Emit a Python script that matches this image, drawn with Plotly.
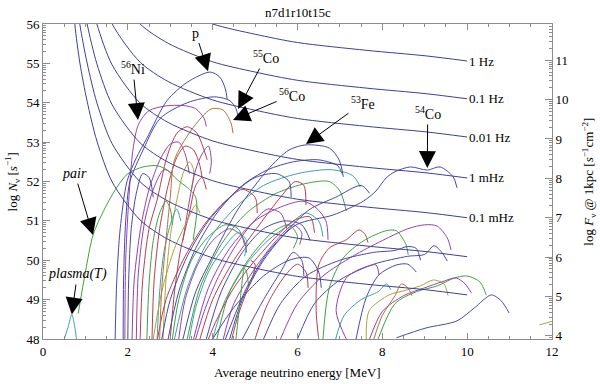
import numpy as np
import plotly.graph_objects as go

# ---- constant detection-rate lines (E in MeV, log N) ----
rate_labels = ["1 Hz", "0.1 Hz", "0.01 Hz", "1 mHz", "0.1 mHz", "", ""]

rate_1Hz_E = [2.95, 4.0, 5.0, 6.0, 7.64, 9.03, 10.0]
rate_1Hz_N = [56.47, 56.0, 55.74, 55.53, 55.33, 55.19, 55.06]
rate_01Hz_E = [1.63, 2.29, 2.95, 4.0, 5.0, 6.0, 7.64, 9.03, 10.0]
rate_01Hz_N = [56.97, 56.0, 55.51, 55.04, 54.78, 54.57, 54.37, 54.23, 54.10]
rate_001Hz_E = [1.27, 1.63, 2.29, 2.95, 4.0, 5.0, 6.0, 7.64, 9.03, 10.0]
rate_001Hz_N = [57.04, 56.0, 55.03, 54.54, 54.07, 53.81, 53.60, 53.40, 53.26, 53.13]
rate_1mHz_E = [1.04, 1.27, 1.63, 2.29, 2.95, 4.0, 5.0, 6.0, 7.64, 9.03, 10.0]
rate_1mHz_N = [57.01, 56.0, 54.96, 53.99, 53.50, 53.03, 52.77, 52.56, 52.36, 52.22, 52.09]
rate_01mHz_E = [0.87, 1.04, 1.27, 1.63, 2.29, 2.95, 4.0, 5.0, 6.0, 7.64, 9.03, 10.0]
rate_01mHz_N = [56.97, 56.0, 54.99, 53.95, 52.98, 52.49, 52.02, 51.76, 51.55, 51.35, 51.21, 51.08]
rate_a_E = [0.75, 0.87, 1.04, 1.27, 1.63, 2.29, 2.95, 4.0, 5.0, 6.0, 7.64, 9.03, 10.0]
rate_a_N = [56.97, 55.98, 55.01, 54.0, 52.96, 51.99, 51.50, 51.03, 50.77, 50.56, 50.36, 50.22, 50.09]
rate_b_E = [0.68, 0.75, 0.87, 1.04, 1.27, 1.63, 2.29, 2.95, 4.0, 5.0, 6.0, 7.64, 9.03, 10.0]
rate_b_N = [57.2, 56.0, 55.01, 54.04, 53.03, 51.99, 51.02, 50.53, 50.06, 49.80, 49.59, 49.39, 49.25, 49.12]

# ---- labelled tracks ----
p_E = [1.70, 1.74, 1.82, 1.98, 2.2, 2.45, 2.92, 3.4, 3.94, 4.17, 4.3, 4.34]
p_N = [48.0, 49.5, 50.8, 52.0, 52.6, 53.1, 54.05, 54.52, 54.78, 54.65, 54.35, 54.1]
co55_E = [1.89, 1.9, 1.95, 2.05, 2.36, 2.76, 3.4, 4.05, 4.41, 4.55, 4.6]
co55_N = [48.0, 49.5, 51.0, 52.0, 52.8, 53.6, 54.0, 54.15, 54.05, 53.85, 53.64]
ni56_E = [1.93, 1.95, 2.02, 2.12, 2.25, 2.5, 2.9, 3.3, 3.6, 3.8, 3.85]
ni56_N = [48.0, 50.0, 51.5, 52.8, 53.45, 53.8, 53.92, 53.93, 53.85, 53.6, 53.4]
co56_E = [2.75, 2.8, 2.9, 3.0, 3.1, 3.5, 3.96, 4.24, 4.43, 4.48]
co56_N = [48.0, 49.3, 50.5, 51.6, 52.55, 53.31, 53.84, 53.82, 53.49, 53.23]
fe53_E = [3.3, 3.6, 4.0, 4.6, 5.3, 5.8, 6.2, 6.75, 6.98, 7.08]
fe53_N = [48.0, 49.2, 50.1, 51.3, 52.3, 52.8, 52.93, 52.85, 52.55, 52.12]
co54_E = [4.3, 4.8, 5.3, 5.97, 6.84, 7.55, 7.85, 8.09, 8.3, 8.66, 9.06, 9.36, 9.67, 9.76]
co54_N = [48.0, 49.3, 50.2, 50.9, 51.15, 51.5, 51.76, 52.09, 52.25, 52.37, 52.29, 52.37, 52.12, 51.84]
pair_E = [0.83, 1.0, 1.18, 1.45, 1.74, 2.0, 2.36, 2.69, 2.92, 3.16, 3.4, 3.5, 3.6, 3.63, 3.54]
pair_N = [48.65, 49.7, 50.64, 51.3, 51.85, 52.2, 52.37, 52.4, 52.3, 52.05, 51.85, 51.75, 51.6, 51.28, 50.52]
plasma_E = [0.47, 0.59, 0.68, 0.75, 0.8]
plasma_N = [47.9, 48.3, 48.62, 48.3, 47.9]

# ---- unlabelled tracks: steep group, middle bundle, low-right group ----
steep_E = [
    [2.29, 2.35, 2.5, 2.69, 2.92, 3.16, 3.4, 3.63, 3.77, 3.87],
    [2.1, 2.15, 2.3, 2.5, 2.78, 3.0, 3.2, 3.35, 3.45],
    [2.57, 2.62, 2.75, 2.95, 3.15, 3.35, 3.55, 3.7, 3.75],
    [2.83, 2.9, 3.0, 3.15, 3.3, 3.45, 3.55, 3.5],
    [3.3, 3.45, 3.6, 3.75, 3.9, 3.97, 3.93],
    [2.0, 2.02, 2.08, 2.2, 2.35, 2.5, 2.6],
    [2.45, 2.5, 2.6, 2.75, 2.9, 3.0, 3.05],
    [2.69, 2.75, 2.85, 3.0, 3.15, 3.25],
    [3.0, 3.1, 3.25, 3.45, 3.6, 3.75, 3.85],
    [2.2, 2.25, 2.4, 2.6, 2.85, 3.05],
]
steep_N = [
    [48.0, 49.5, 50.8, 51.53, 52.62, 53.23, 53.39, 53.23, 52.88, 52.55],
    [48.0, 49.5, 50.8, 51.8, 52.6, 52.95, 53.0, 52.7, 52.2],
    [48.0, 49.5, 50.8, 51.9, 52.6, 52.9, 52.8, 52.4, 52.1],
    [48.0, 49.5, 50.6, 51.5, 52.2, 52.5, 52.3, 51.8],
    [50.5, 51.5, 52.3, 52.7, 52.9, 52.5, 52.2],
    [48.0, 49.5, 50.8, 51.7, 52.2, 52.1, 51.6],
    [48.0, 49.4, 50.5, 51.2, 51.5, 51.3, 50.9],
    [48.0, 49.2, 50.2, 50.9, 51.3, 51.0],
    [48.0, 49.2, 50.3, 51.2, 51.9, 52.1, 51.8],
    [48.0, 49.7, 51.0, 51.8, 52.3, 52.2],
]
steep_c = ["red", "purple", "red", "olive", "purple", "blue", "green", "teal", "red", "purple"]

mid_E = [
    [2.95, 3.2, 3.6, 4.1, 4.7, 5.3, 5.9, 6.5, 6.95, 7.05],
    [3.1, 3.4, 3.9, 4.5, 5.2, 6.0, 6.8, 7.3, 7.48],
    [3.4, 3.7, 4.2, 4.8, 5.5, 6.2, 6.75, 7.0, 7.15],
    [3.55, 3.9, 4.4, 5.0, 5.6, 6.13, 6.44, 6.67, 6.72],
    [3.7, 4.0, 4.5, 5.1, 5.6, 5.95, 6.15, 6.2],
    [3.85, 4.2, 4.7, 5.2, 5.7, 6.1, 6.3],
    [4.0, 4.3, 4.8, 5.3, 5.8, 6.2, 6.5, 6.6],
    [4.1, 4.4, 4.9, 5.4, 5.8, 6.0, 5.9],
    [4.25, 4.5, 5.0, 5.5, 5.9, 6.1, 6.05],
    [2.7, 2.9, 3.3, 3.8, 4.3, 4.7, 5.0, 5.05],
    [2.8, 3.0, 3.4, 3.9, 4.5, 5.0, 5.5, 5.8, 5.85],
    [3.05, 3.2, 3.5, 3.9, 4.3, 4.6, 4.75],
    [3.2, 3.35, 3.65, 4.0, 4.4, 4.7, 4.8],
    [3.45, 3.6, 3.9, 4.25, 4.6, 4.8, 4.75],
    [4.4, 4.7, 5.2, 5.8, 6.3, 6.9, 7.5, 7.7],
    [4.45, 4.6, 4.8, 4.95, 5.0, 4.9],
    [4.55, 4.65, 4.75, 4.8, 4.85],
    [2.6, 2.8, 3.1, 3.4, 3.6, 3.7],
    [3.6, 3.8, 4.1, 4.5, 4.9, 5.3, 5.6, 5.75],
    [3.9, 4.1, 4.5, 5.0, 5.5, 5.9, 6.3, 6.4],
]
mid_N = [
    [48.0, 49.2, 50.3, 51.2, 51.9, 52.3, 52.5, 52.55, 52.4, 52.2],
    [48.0, 49.3, 50.5, 51.3, 51.9, 52.2, 52.3, 52.15, 51.86],
    [48.0, 49.3, 50.4, 51.2, 51.7, 51.95, 52.0, 51.76, 51.25],
    [48.0, 49.3, 50.3, 51.0, 51.35, 51.5, 51.33, 51.0, 50.52],
    [48.0, 49.0, 50.0, 50.9, 51.6, 52.0, 51.9, 51.4],
    [48.0, 49.2, 50.2, 50.8, 51.0, 50.9, 50.5],
    [48.0, 49.0, 49.9, 50.5, 50.9, 51.2, 51.0, 50.6],
    [48.0, 49.2, 50.1, 50.7, 50.9, 50.6, 50.3],
    [48.0, 48.9, 49.8, 50.5, 50.9, 50.7, 50.4],
    [48.0, 49.0, 50.0, 50.9, 51.5, 51.8, 51.6, 51.2],
    [48.0, 49.0, 50.1, 51.0, 51.7, 52.1, 52.2, 52.0, 51.6],
    [48.0, 49.0, 50.0, 50.6, 50.9, 50.8, 50.4],
    [48.0, 49.0, 49.9, 50.5, 50.8, 50.6, 50.2],
    [48.0, 48.8, 49.7, 50.3, 50.7, 50.5, 50.1],
    [48.0, 49.0, 50.0, 50.8, 51.3, 51.6, 51.9, 51.7],
    [48.0, 48.6, 49.2, 49.6, 49.9, 50.0],
    [48.0, 49.0, 49.8, 49.7, 49.3],
    [48.0, 49.2, 50.3, 51.0, 51.4, 51.2],
    [48.0, 48.7, 49.5, 50.3, 50.9, 51.3, 51.2, 50.8],
    [48.0, 48.5, 49.3, 50.0, 50.6, 51.0, 51.1, 50.7],
]
mid_c = ["blue", "teal", "green", "purple", "red", "blue", "teal", "green", "purple", "red",
         "blue", "green", "purple", "teal", "blue", "red", "green", "olive", "purple", "red"]

low_E = [
    [6.5, 6.44, 6.5, 6.75, 7.15, 7.45, 7.6, 7.66],
    [6.6, 6.75, 7.08, 7.55, 8.09, 8.33, 8.56, 8.61],
    [5.6, 6.0, 6.6, 7.3, 8.0, 8.6, 9.0, 9.29, 9.53, 9.62],
    [5.2, 5.6, 6.2, 7.0, 7.8, 8.3, 8.6, 8.8, 8.9],
    [6.0, 6.4, 7.0, 7.8, 8.6, 9.0, 9.22, 9.41, 9.53],
    [4.0, 4.5, 5.2, 5.8, 6.27, 6.5, 6.56],
    [7.15, 6.91, 7.15, 7.55, 7.85, 7.92],
    [7.38, 7.62, 7.92, 8.33, 8.6, 8.8],
    [7.62, 7.69, 8.16, 8.49, 8.9, 9.2, 9.45, 9.55],
    [7.9, 8.3, 8.8, 9.3, 9.7, 10.0, 10.3, 10.45],
    [7.7, 8.0, 8.5, 9.0, 9.4, 9.74, 9.95, 10.1],
    [8.33, 9.03, 9.76, 10.17, 10.57, 10.8, 10.99],
    [11.7, 12.05],
    [6.9, 7.1, 7.5, 7.9, 8.1, 8.2],
    [7.8, 8.0, 8.3, 8.45, 8.6, 8.7],
    [5.0, 5.3, 5.7, 6.0, 6.2, 6.25],
    [4.7, 5.2, 5.6, 5.9, 6.1, 6.15],
]
low_N = [
    [48.0, 48.72, 49.88, 50.31, 50.52, 50.77, 50.65, 50.45],
    [48.0, 49.3, 50.06, 50.49, 50.75, 50.75, 50.39, 50.14],
    [48.0, 48.9, 49.6, 50.1, 50.5, 50.8, 50.9, 50.87, 50.57, 50.26],
    [48.0, 48.9, 49.6, 50.0, 50.2, 50.25, 50.35, 50.3, 50.0],
    [48.0, 48.9, 49.5, 49.9, 50.1, 50.15, 50.37, 50.19, 49.98],
    [48.0, 48.8, 49.6, 50.0, 50.06, 49.7, 49.3],
    [48.0, 48.72, 49.55, 49.81, 49.88, 49.63],
    [48.0, 49.05, 49.63, 49.88, 49.9, 49.7],
    [48.0, 48.72, 49.12, 49.22, 49.35, 49.5, 49.4, 49.1],
    [48.0, 48.9, 49.2, 49.35, 49.55, 49.6, 49.45, 49.12],
    [48.0, 48.7, 49.1, 49.3, 49.45, 49.55, 49.4, 49.17],
    [48.03, 48.28, 48.46, 48.79, 49.12, 48.97, 48.66],
    [48.36, 48.46],
    [48.0, 48.6, 49.0, 49.2, 49.4, 49.25],
    [48.0, 48.6, 49.1, 49.4, 49.3, 49.1],
    [48.0, 48.9, 49.6, 49.9, 49.7, 49.3],
    [48.0, 49.0, 49.7, 50.2, 50.0, 49.6],
]
low_c = ["red", "green", "purple", "blue", "blue", "blue", "purple", "blue", "olive",
         "green", "purple", "blue", "olive", "teal", "orange", "red", "blue"]

palette = {"blue": "#4848aa", "red": "#b2404e", "green": "#40a040", "purple": "#9444ac",
           "teal": "#40a0aa", "olive": "#a6a63c", "orange": "#b4703c"}
NAVY = "#3e3e98"
FONT = "Liberation Serif, Times New Roman, serif"

fig = go.Figure()

def add_line(E, N, color, width=1):
    fig.add_trace(go.Scatter(x=E, y=N, mode="lines", line=dict(color=color, width=width, shape="spline", smoothing=0.8),
                             hoverinfo="skip", showlegend=False))

# coloured tracks first, iso-rate lines on top
for Es, Ns, cs in [(steep_E, steep_N, steep_c), (mid_E, mid_N, mid_c), (low_E, low_N, low_c)]:
    for E, N, c in zip(Es, Ns, cs):
        add_line(E, N, palette[c])

add_line(pair_E, pair_N, palette["green"])
add_line(plasma_E, plasma_N, palette["teal"])
add_line(co56_E, co56_N, palette["orange"])
add_line(ni56_E, ni56_N, palette["purple"])
add_line(fe53_E, fe53_N, palette["blue"])
add_line(co54_E, co54_N, palette["blue"])
add_line(co55_E, co55_N, palette["blue"])
add_line(p_E, p_N, palette["blue"])

rates = [(rate_1Hz_E, rate_1Hz_N), (rate_01Hz_E, rate_01Hz_N), (rate_001Hz_E, rate_001Hz_N),
         (rate_1mHz_E, rate_1mHz_N), (rate_01mHz_E, rate_01mHz_N), (rate_a_E, rate_a_N), (rate_b_E, rate_b_N)]
for (E, N), lab in zip(rates, rate_labels):
    add_line(E, N, NAVY)
    if lab:
        fig.add_annotation(x=E[-1], y=N[-1], text=lab, showarrow=False, xanchor="left", yanchor="middle",
                           font=dict(size=13))

# dummy trace to show the flux axis on the right
fig.add_trace(go.Scatter(x=[None], y=[None], yaxis="y2", showlegend=False))

# labels with arrows: (text, label E, label N, tip E, tip N)
arrows = [
    ("p", 3.6, 55.77, 3.89, 54.8),
    ("<sup>56</sup>Ni", 2.12, 54.88, 2.24, 53.56),
    ("<sup>55</sup>Co", 5.25, 55.16, 4.6, 53.84),
    ("<sup>56</sup>Co", 5.87, 54.2, 4.48, 53.56),
    ("<sup>53</sup>Fe", 7.54, 54.0, 6.2, 52.95),
    ("<sup>54</sup>Co", 9.07, 53.74, 9.06, 52.34),
    ("<i>pair</i>", 0.75, 52.2, 1.18, 50.64),
    ("<i>plasma(T)</i>", 0.81, 49.65, 0.68, 48.62),
]
for txt, lx, ly, tx, ty in arrows:
    fig.add_annotation(x=tx, y=ty, ax=lx, ay=ly, xref="x", yref="y", axref="x", ayref="y",
                       text=txt, showarrow=True, arrowhead=2, arrowsize=3.4, arrowwidth=1,
                       arrowcolor="black", standoff=0, startstandoff=1, font=dict(size=14))

minor_left = [n + np.log10(k) for n in range(48, 56) for k in range(2, 10)]
minor_right = [n + np.log10(k) for n in range(3, 12) for k in range(2, 10)]
axcol = "#8c8c8c"
tickfont = dict(family=FONT, size=13, color="black")

fig.update_layout(
    width=600, height=384, margin=dict(l=43, r=48, t=24, b=45),
    paper_bgcolor="white", plot_bgcolor="white", showlegend=False,
    font=dict(family=FONT, size=13, color="black"),
    xaxis=dict(range=[0, 12], dtick=2, ticks="inside", ticklen=6, tickcolor=axcol, showgrid=False,
               zeroline=False, showline=True, linecolor=axcol, mirror="ticks", tickfont=tickfont,
               minor=dict(dtick=0.5, ticks="inside", ticklen=3, tickcolor=axcol)),
    yaxis=dict(range=[48, 56], dtick=1, ticks="inside", ticklen=7, tickcolor=axcol, showgrid=False,
               zeroline=False, showline=True, linecolor=axcol, tickfont=tickfont,
               minor=dict(tickmode="array", tickvals=minor_left, ticks="inside", ticklen=3, tickcolor=axcol)),
    yaxis2=dict(range=[48 - 44.08, 56 - 44.08], overlaying="y", side="right", ticks="inside",
                ticklen=7, tickcolor=axcol, showgrid=False, zeroline=False, showline=True, linecolor=axcol,
                tickvals=list(range(4, 12)), tickfont=tickfont,
                minor=dict(tickmode="array", tickvals=minor_right, ticks="inside", ticklen=3, tickcolor=axcol)),
)

# titles
fig.add_annotation(text="n7d1r10t15c", xref="paper", yref="paper", x=0.5, y=1.038, showarrow=False,
                   yanchor="middle", font=dict(size=13))
fig.add_annotation(text="Average neutrino energy [MeV]", xref="paper", yref="paper", x=0.5, y=-0.105,
                   showarrow=False, yanchor="middle", font=dict(size=13))
fig.add_annotation(text="log <i>N</i><sub>ν</sub> [<i>s</i><sup>−1</sup>]", xref="paper", yref="paper",
                   x=-0.061, y=0.5, textangle=-90, showarrow=False, xanchor="center", yanchor="middle",
                   font=dict(size=13))
fig.add_annotation(text="log <i>F</i><sub>ν</sub> @ 1kpc [<i>s</i><sup>−1</sup>cm<sup>−2</sup>]",
                   xref="paper", yref="paper", x=1.071, y=0.5, textangle=-90, showarrow=False,
                   xanchor="center", yanchor="middle", font=dict(size=13))

# page body has a default 8px margin; drop it so the figure sits at the window origin
fig.write_html("out.html", config={"displayModeBar": False},
               post_script="document.body.style.margin='0';")
